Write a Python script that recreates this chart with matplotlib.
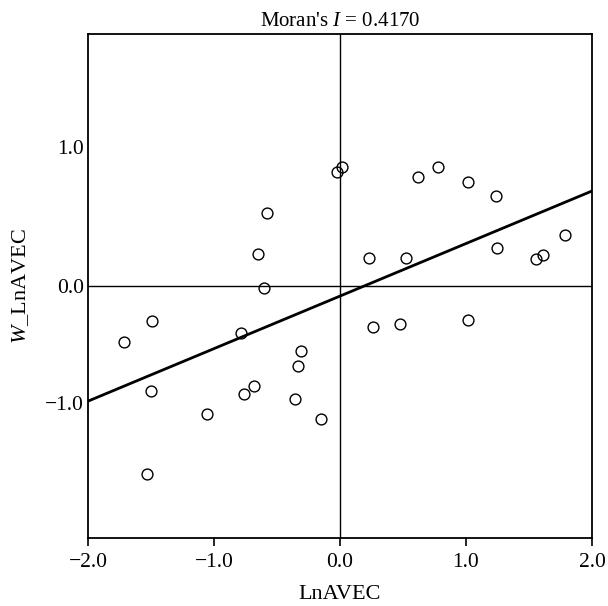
import numpy as np
import matplotlib
matplotlib.use("Agg")
import matplotlib.pyplot as plt

plt.rcParams['font.family'] = ['Liberation Serif', 'DejaVu Serif']
plt.rcParams['mathtext.fontset'] = 'custom'
plt.rcParams['mathtext.rm'] = 'Liberation Serif'
plt.rcParams['mathtext.it'] = 'Liberation Serif:italic'

# Standardized LnAVEC (x) and its spatial lag W_LnAVEC (y)
lnavec = [-0.026, 0.016, -0.579, -0.648, -0.606, -1.490, 0.621, 0.780, 1.016, 1.238,
          1.786, 1.244, 1.611, 1.553, 0.228, 0.524, 1.018, 0.476, 0.260, -1.714,
          -0.783, -0.312, -0.333, -1.502, -0.685, -0.764, -0.357, -1.056, -0.148, -1.534]
w_lnavec = [0.907, 0.947, 0.582, 0.256, -0.013, -0.278, 0.863, 0.942, 0.823, 0.712,
            0.405, 0.304, 0.246, 0.212, 0.222, 0.220, -0.267, -0.302, -0.328, -0.444,
            -0.375, -0.516, -0.633, -0.831, -0.796, -0.855, -0.897, -1.013, -1.053, -1.492]
moran_I = 0.4170
intercept = -0.08
x_ticks = [-2.0, -1.0, 0.0, 1.0, 2.0]
x_tick_labels = ['\u22122.0', '\u22121.0', '0.0', '1.0', '2.0']
y_tick_labels = ['1.0', '0.0', '\u22121.0']

fig = plt.figure(figsize=(6.08, 6.06), dpi=100)
ax = fig.add_axes([88/608, 68/606, 504/608, 504/606])

ax.axhline(0, color='black', lw=1.0, zorder=1)
ax.axvline(0, color='black', lw=1.0, zorder=1)

xl = np.array([-2.0, 2.0])
ax.plot(xl, intercept + moran_I * xl, color='black', lw=2.0, zorder=2)

ax.plot(lnavec, w_lnavec, linestyle='none', marker='o', markersize=7.8,
        markerfacecolor='none', markeredgecolor='black', markeredgewidth=1.0, zorder=3)

ax.set_xlim(-2, 2)
ax.set_ylim(-2, 2)
ax.set_xticks(x_ticks)
ax.set_xticklabels(x_tick_labels, fontsize=15.5)
ax.set_yticks([1.103, 0.0, -0.929])
ax.set_yticklabels(y_tick_labels, fontsize=15.5)
ax.tick_params(axis='x', direction='out', length=6, width=1.2, pad=5, colors='black')
ax.tick_params(axis='y', length=0, pad=3, colors='black')
for s in ax.spines.values():
    s.set_linewidth(1.3)
    s.set_color('black')

ax.set_xlabel('LnAVEC', fontsize=16, labelpad=9)
ax.set_ylabel('$W$_LnAVEC', fontsize=16, labelpad=10)
ax.set_title("Moran's $I$ = 0.4170", fontsize=15, pad=6)

fig.savefig('out.png', dpi=100)
